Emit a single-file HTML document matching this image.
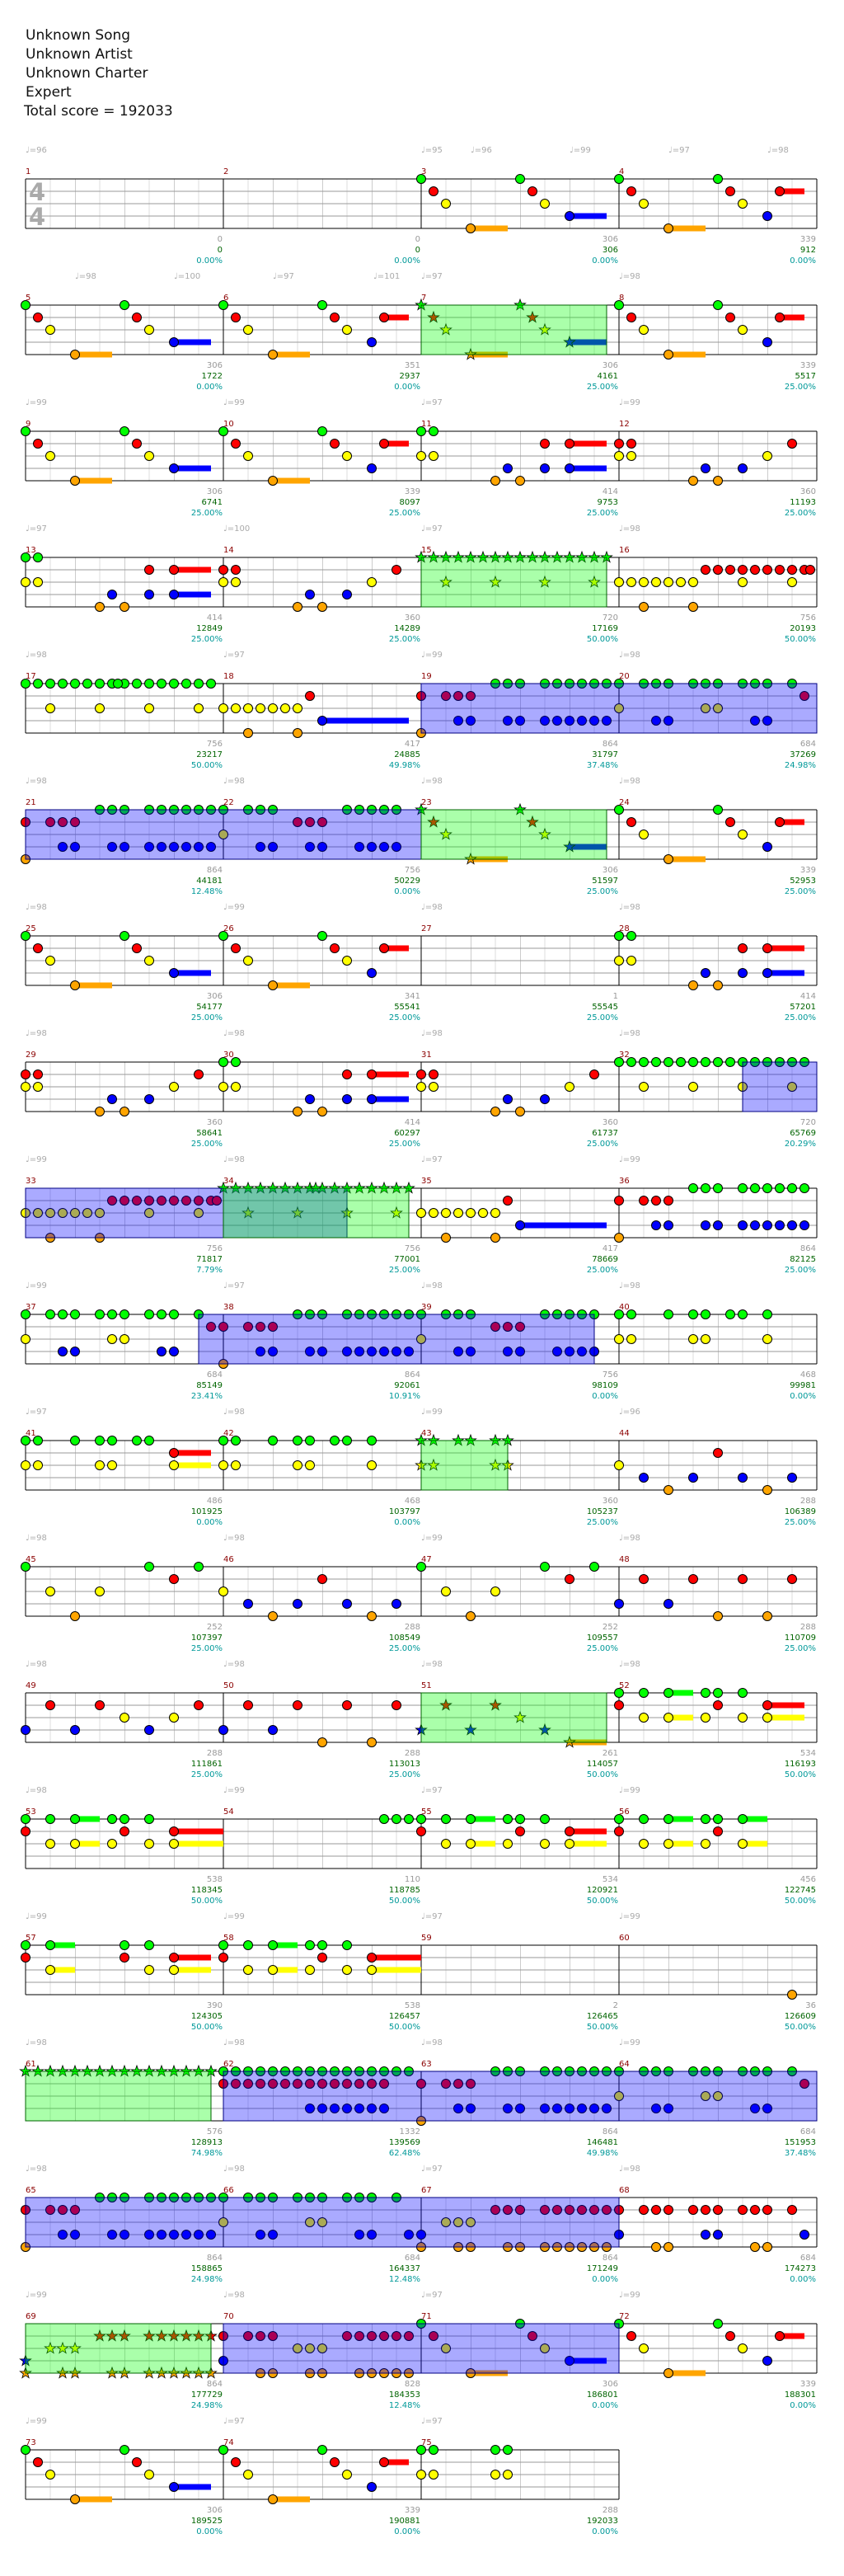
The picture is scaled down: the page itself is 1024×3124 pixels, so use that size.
<!DOCTYPE html>
<html><head><meta charset="utf-8"><style>
html,body{margin:0;padding:0;background:#fff}
svg{display:block}
text{font-family:"DejaVu Sans","Liberation Sans",sans-serif}
.h{font-size:17px;fill:#111}
.tp{font-size:10px;fill:#aaa}
.mn{font-size:10px;fill:#8b0000}
.n{font-size:10px;text-anchor:end}
.a{fill:#999}.b{fill:#006400}.c{fill:#009999}
.ts{font-size:29px;font-weight:bold;fill:#aaa}
</style></head><body>
<svg width="1024" height="3124" viewBox="0 0 1024 3124" xmlns="http://www.w3.org/2000/svg" xmlns:xlink="http://www.w3.org/1999/xlink">
<defs>
<pattern id="gr" width="60" height="60" patternUnits="userSpaceOnUse" x="31" y="0">
<rect width="60" height="60" fill="#fff"/>
<path d="M30 0V60" stroke="#ddd" stroke-width="1" shape-rendering="crispEdges"/>
<path d="M0 0V60" stroke="#999" stroke-width="1" shape-rendering="crispEdges"/>
<path d="M0 15H60M0 30H60M0 45H60" stroke="#999" stroke-width="1" shape-rendering="crispEdges"/>
</pattern>
<g id="staff">
<rect x="31" y="0" width="960" height="60" fill="url(#gr)"/>
<path d="M31 0V60M271 0V60M511 0V60M751 0V60M991 0V60M31 0H991M31 60H991" stroke="#000" stroke-width="1.2" fill="none" shape-rendering="crispEdges"/>
</g>
<g id="staff3">
<rect x="31" y="0" width="720" height="60" fill="url(#gr)"/>
<path d="M31 0V60M271 0V60M511 0V60M751 0V60M31 0H751M31 60H751" stroke="#000" stroke-width="1.2" fill="none" shape-rendering="crispEdges"/>
</g>
<circle id="G" cx="0" cy="0" r="5.5" fill="#00ff00" stroke="#000" stroke-width="1"/>
<circle id="R" cx="0" cy="15" r="5.5" fill="#ff0000" stroke="#000" stroke-width="1"/>
<circle id="Y" cx="0" cy="30" r="5.5" fill="#ffff00" stroke="#000" stroke-width="1"/>
<circle id="B" cx="0" cy="45" r="5.5" fill="#0000ff" stroke="#000" stroke-width="1"/>
<circle id="O" cx="0" cy="60" r="5.5" fill="#ffa500" stroke="#000" stroke-width="1"/>
<polygon id="st" points="0,-7 1.65,-2.27 6.66,-2.16 2.66,0.87 4.11,5.66 0,2.8 -4.11,5.66 -2.66,0.87 -6.66,-2.16 -1.65,-2.27" stroke="#000" stroke-width="0.8"/>
<g id="sG" fill="#00ff00"><use href="#st"/></g>
<g id="sR" fill="#ff0000" transform="translate(0,15)"><use href="#st"/></g>
<g id="sY" fill="#ffff00" transform="translate(0,30)"><use href="#st"/></g>
<g id="sB" fill="#0000ff" transform="translate(0,45)"><use href="#st"/></g>
<g id="sO" fill="#ffa500" transform="translate(0,60)"><use href="#st"/></g>

<g id="M3"><rect x="60" y="56.5" width="45" height="7" fill="#ffa500"/><rect x="180" y="41.5" width="45" height="7" fill="#0000ff"/><use href="#G"/><use href="#R" x="15"/><use href="#Y" x="30"/><use href="#O" x="60"/><use href="#G" x="120"/><use href="#R" x="135"/><use href="#Y" x="150"/><use href="#B" x="180"/></g>
<g id="M4"><rect x="60" y="56.5" width="45" height="7" fill="#ffa500"/><rect x="195" y="11.5" width="30" height="7" fill="#ff0000"/><use href="#G"/><use href="#R" x="15"/><use href="#Y" x="30"/><use href="#O" x="60"/><use href="#G" x="120"/><use href="#R" x="135"/><use href="#Y" x="150"/><use href="#B" x="180"/><use href="#R" x="195"/></g>
<g id="M7"><rect x="60" y="56.5" width="45" height="7" fill="#ffa500"/><rect x="180" y="41.5" width="45" height="7" fill="#0000ff"/><use href="#sG"/><use href="#sR" x="15"/><use href="#sY" x="30"/><use href="#sO" x="60"/><use href="#sG" x="120"/><use href="#sR" x="135"/><use href="#sY" x="150"/><use href="#sB" x="180"/></g>
<g id="M11"><rect x="180" y="41.5" width="45" height="7" fill="#0000ff"/><rect x="180" y="11.5" width="45" height="7" fill="#ff0000"/><use href="#G"/><use href="#G" x="15"/><use href="#Y"/><use href="#Y" x="15"/><use href="#O" x="90"/><use href="#O" x="120"/><use href="#B" x="105"/><use href="#B" x="150"/><use href="#B" x="180"/><use href="#R" x="150"/><use href="#R" x="180"/></g>
<g id="M12"><use href="#R"/><use href="#R" x="15"/><use href="#Y"/><use href="#Y" x="15"/><use href="#O" x="90"/><use href="#O" x="120"/><use href="#B" x="105"/><use href="#B" x="150"/><use href="#Y" x="180"/><use href="#R" x="210"/></g>
<g id="M19"><use href="#R"/><use href="#R" x="30"/><use href="#R" x="45"/><use href="#R" x="60"/><use href="#O"/><use href="#G" x="90"/><use href="#G" x="105"/><use href="#G" x="120"/><use href="#G" x="150"/><use href="#G" x="165"/><use href="#G" x="180"/><use href="#G" x="195"/><use href="#G" x="210"/><use href="#G" x="225"/><use href="#B" x="45"/><use href="#B" x="60"/><use href="#B" x="105"/><use href="#B" x="120"/><use href="#B" x="150"/><use href="#B" x="165"/><use href="#B" x="180"/><use href="#B" x="195"/><use href="#B" x="210"/><use href="#B" x="225"/></g>
<g id="M20"><use href="#G"/><use href="#G" x="30"/><use href="#G" x="45"/><use href="#G" x="60"/><use href="#G" x="90"/><use href="#G" x="105"/><use href="#G" x="120"/><use href="#G" x="150"/><use href="#G" x="165"/><use href="#G" x="180"/><use href="#G" x="210"/><use href="#Y"/><use href="#Y" x="105"/><use href="#Y" x="120"/><use href="#B" x="45"/><use href="#B" x="60"/><use href="#B" x="165"/><use href="#B" x="180"/><use href="#R" x="225"/></g>
<g id="M22"><use href="#G"/><use href="#G" x="30"/><use href="#G" x="45"/><use href="#G" x="60"/><use href="#G" x="150"/><use href="#G" x="165"/><use href="#G" x="180"/><use href="#G" x="195"/><use href="#G" x="210"/><use href="#Y"/><use href="#R" x="90"/><use href="#R" x="105"/><use href="#R" x="120"/><use href="#B" x="45"/><use href="#B" x="60"/><use href="#B" x="105"/><use href="#B" x="120"/><use href="#B" x="165"/><use href="#B" x="180"/><use href="#B" x="195"/><use href="#B" x="210"/></g>
<g id="M52"><rect x="60" y="-3.5" width="30" height="7" fill="#00ff00"/><rect x="60" y="26.5" width="30" height="7" fill="#ffff00"/><rect x="180" y="11.5" width="45" height="7" fill="#ff0000"/><rect x="180" y="26.5" width="45" height="7" fill="#ffff00"/><use href="#G"/><use href="#G" x="30"/><use href="#G" x="60"/><use href="#G" x="105"/><use href="#G" x="120"/><use href="#G" x="150"/><use href="#R"/><use href="#R" x="120"/><use href="#R" x="180"/><use href="#Y" x="30"/><use href="#Y" x="60"/><use href="#Y" x="105"/><use href="#Y" x="150"/><use href="#Y" x="180"/></g>
<g id="M53"><rect x="60" y="-3.5" width="30" height="7" fill="#00ff00"/><rect x="60" y="26.5" width="30" height="7" fill="#ffff00"/><rect x="180" y="11.5" width="60" height="7" fill="#ff0000"/><rect x="180" y="26.5" width="60" height="7" fill="#ffff00"/><use href="#G"/><use href="#G" x="30"/><use href="#G" x="60"/><use href="#G" x="105"/><use href="#G" x="120"/><use href="#G" x="150"/><use href="#R"/><use href="#R" x="120"/><use href="#R" x="180"/><use href="#Y" x="30"/><use href="#Y" x="60"/><use href="#Y" x="105"/><use href="#Y" x="150"/><use href="#Y" x="180"/></g>
<g id="Gall"><use href="#G"/><use href="#G" x="15"/><use href="#G" x="30"/><use href="#G" x="45"/><use href="#G" x="60"/><use href="#G" x="75"/><use href="#G" x="90"/><use href="#G" x="105"/><use href="#G" x="120"/><use href="#G" x="135"/><use href="#G" x="150"/><use href="#G" x="165"/><use href="#G" x="180"/><use href="#G" x="195"/><use href="#G" x="210"/><use href="#G" x="225"/></g>
<g id="sGall"><use href="#sG"/><use href="#sG" x="15"/><use href="#sG" x="30"/><use href="#sG" x="45"/><use href="#sG" x="60"/><use href="#sG" x="75"/><use href="#sG" x="90"/><use href="#sG" x="105"/><use href="#sG" x="120"/><use href="#sG" x="135"/><use href="#sG" x="150"/><use href="#sG" x="165"/><use href="#sG" x="180"/><use href="#sG" x="195"/><use href="#sG" x="210"/><use href="#sG" x="225"/></g>
<g id="Yrun"><use href="#Y"/><use href="#Y" x="15"/><use href="#Y" x="30"/><use href="#Y" x="45"/><use href="#Y" x="60"/><use href="#Y" x="75"/><use href="#Y" x="90"/></g>
</defs>

<!-- header -->
<text class="h" x="31" y="48">Unknown Song</text>
<text class="h" x="31" y="71">Unknown Artist</text>
<text class="h" x="31" y="94">Unknown Charter</text>
<text class="h" x="31" y="117">Expert</text>
<text class="h" x="29" y="140">Total score = 192033</text>

<!-- ROW 0 -->
<g transform="translate(0,217)">
<use href="#staff"/>
<text class="ts" x="35" y="26">4</text><text class="ts" x="35" y="56">4</text>
<use href="#M3" x="511"/><use href="#M4" x="751"/>
<text class="tp" x="31" y="-32">♩=96</text><text class="tp" x="511" y="-32">♩=95</text><text class="tp" x="571" y="-32">♩=96</text><text class="tp" x="691" y="-32">♩=99</text><text class="tp" x="811" y="-32">♩=97</text><text class="tp" x="931" y="-32">♩=98</text>
<text class="mn" x="31" y="-6">1</text><text class="mn" x="271" y="-6">2</text><text class="mn" x="511" y="-6">3</text><text class="mn" x="751" y="-6">4</text>
<text class="n a" x="270" y="76">0</text><text class="n b" x="270" y="89">0</text><text class="n c" x="270" y="102">0.00%</text>
<text class="n a" x="510" y="76">0</text><text class="n b" x="510" y="89">0</text><text class="n c" x="510" y="102">0.00%</text>
<text class="n a" x="750" y="76">306</text><text class="n b" x="750" y="89">306</text><text class="n c" x="750" y="102">0.00%</text>
<text class="n a" x="990" y="76">339</text><text class="n b" x="990" y="89">912</text><text class="n c" x="990" y="102">0.00%</text>
</g>

<!-- ROW 1 -->
<g transform="translate(0,370)">
<use href="#staff"/>
<use href="#M3" x="31"/><use href="#M4" x="271"/><use href="#M7" x="511"/><use href="#M4" x="751"/>
<rect x="511" y="0" width="225" height="60" fill="rgba(0,255,0,0.333)" stroke="#006400" stroke-width="1"/>
<text class="tp" x="91" y="-32">♩=98</text><text class="tp" x="211" y="-32">♩=100</text><text class="tp" x="331" y="-32">♩=97</text><text class="tp" x="453" y="-32">♩=101</text><text class="tp" x="511" y="-32">♩=97</text><text class="tp" x="751" y="-32">♩=98</text>
<text class="mn" x="31" y="-6">5</text><text class="mn" x="271" y="-6">6</text><text class="mn" x="511" y="-6">7</text><text class="mn" x="751" y="-6">8</text>
<text class="n a" x="270" y="76">306</text><text class="n b" x="270" y="89">1722</text><text class="n c" x="270" y="102">0.00%</text>
<text class="n a" x="510" y="76">351</text><text class="n b" x="510" y="89">2937</text><text class="n c" x="510" y="102">0.00%</text>
<text class="n a" x="750" y="76">306</text><text class="n b" x="750" y="89">4161</text><text class="n c" x="750" y="102">25.00%</text>
<text class="n a" x="990" y="76">339</text><text class="n b" x="990" y="89">5517</text><text class="n c" x="990" y="102">25.00%</text>
</g>

<!-- ROW 2 -->
<g transform="translate(0,523)">
<use href="#staff"/>
<use href="#M3" x="31"/><use href="#M4" x="271"/><use href="#M11" x="511"/><use href="#M12" x="751"/>
<text class="tp" x="31" y="-32">♩=99</text><text class="tp" x="271" y="-32">♩=99</text><text class="tp" x="511" y="-32">♩=97</text><text class="tp" x="751" y="-32">♩=99</text>
<text class="mn" x="31" y="-6">9</text><text class="mn" x="271" y="-6">10</text><text class="mn" x="511" y="-6">11</text><text class="mn" x="751" y="-6">12</text>
<text class="n a" x="270" y="76">306</text><text class="n b" x="270" y="89">6741</text><text class="n c" x="270" y="102">25.00%</text>
<text class="n a" x="510" y="76">339</text><text class="n b" x="510" y="89">8097</text><text class="n c" x="510" y="102">25.00%</text>
<text class="n a" x="750" y="76">414</text><text class="n b" x="750" y="89">9753</text><text class="n c" x="750" y="102">25.00%</text>
<text class="n a" x="990" y="76">360</text><text class="n b" x="990" y="89">11193</text><text class="n c" x="990" y="102">25.00%</text>
</g>

<!-- ROW 3 -->
<g transform="translate(0,676)">
<use href="#staff"/>
<use href="#M11" x="31"/><use href="#M12" x="271"/>
<g transform="translate(511,0)"><use href="#sGall"/><use href="#sY" x="30"/><use href="#sY" x="90"/><use href="#sY" x="150"/><use href="#sY" x="210"/></g>
<g transform="translate(751,0)"><use href="#Yrun"/><use href="#R" x="105"/><use href="#R" x="120"/><use href="#R" x="135"/><use href="#R" x="150"/><use href="#R" x="165"/><use href="#R" x="180"/><use href="#R" x="195"/><use href="#R" x="210"/><use href="#R" x="225"/><use href="#R" x="232"/><use href="#Y" x="150"/><use href="#Y" x="210"/><use href="#O" x="30"/><use href="#O" x="90"/></g>
<rect x="511" y="0" width="225" height="60" fill="rgba(0,255,0,0.333)" stroke="#006400" stroke-width="1"/>
<text class="tp" x="31" y="-32">♩=97</text><text class="tp" x="271" y="-32">♩=100</text><text class="tp" x="511" y="-32">♩=97</text><text class="tp" x="751" y="-32">♩=98</text>
<text class="mn" x="31" y="-6">13</text><text class="mn" x="271" y="-6">14</text><text class="mn" x="511" y="-6">15</text><text class="mn" x="751" y="-6">16</text>
<text class="n a" x="270" y="76">414</text><text class="n b" x="270" y="89">12849</text><text class="n c" x="270" y="102">25.00%</text>
<text class="n a" x="510" y="76">360</text><text class="n b" x="510" y="89">14289</text><text class="n c" x="510" y="102">25.00%</text>
<text class="n a" x="750" y="76">720</text><text class="n b" x="750" y="89">17169</text><text class="n c" x="750" y="102">50.00%</text>
<text class="n a" x="990" y="76">756</text><text class="n b" x="990" y="89">20193</text><text class="n c" x="990" y="102">50.00%</text>
</g>

<!-- ROW 4 -->
<g transform="translate(0,829)">
<use href="#staff"/>
<g transform="translate(31,0)"><use href="#Gall"/><use href="#G" x="112"/><use href="#Y" x="30"/><use href="#Y" x="90"/><use href="#Y" x="150"/><use href="#Y" x="210"/></g>
<g transform="translate(271,0)"><rect x="120" y="41.5" width="105" height="7" fill="#0000ff"/><use href="#Yrun"/><use href="#R" x="105"/><use href="#O" x="30"/><use href="#O" x="90"/><use href="#B" x="120"/></g>
<use href="#M19" x="511"/><use href="#M20" x="751"/>
<rect x="511" y="0" width="480" height="60" fill="rgba(0,0,255,0.333)" stroke="#000080" stroke-width="1"/>
<text class="tp" x="31" y="-32">♩=98</text><text class="tp" x="271" y="-32">♩=97</text><text class="tp" x="511" y="-32">♩=99</text><text class="tp" x="751" y="-32">♩=98</text>
<text class="mn" x="31" y="-6">17</text><text class="mn" x="271" y="-6">18</text><text class="mn" x="511" y="-6">19</text><text class="mn" x="751" y="-6">20</text>
<text class="n a" x="270" y="76">756</text><text class="n b" x="270" y="89">23217</text><text class="n c" x="270" y="102">50.00%</text>
<text class="n a" x="510" y="76">417</text><text class="n b" x="510" y="89">24885</text><text class="n c" x="510" y="102">49.98%</text>
<text class="n a" x="750" y="76">864</text><text class="n b" x="750" y="89">31797</text><text class="n c" x="750" y="102">37.48%</text>
<text class="n a" x="990" y="76">684</text><text class="n b" x="990" y="89">37269</text><text class="n c" x="990" y="102">24.98%</text>
</g>

<!-- ROW 5 -->
<g transform="translate(0,982)">
<use href="#staff"/>
<use href="#M19" x="31"/><use href="#M22" x="271"/><use href="#M7" x="511"/><use href="#M4" x="751"/>
<rect x="31" y="0" width="480" height="60" fill="rgba(0,0,255,0.333)" stroke="#000080" stroke-width="1"/>
<rect x="511" y="0" width="225" height="60" fill="rgba(0,255,0,0.333)" stroke="#006400" stroke-width="1"/>
<text class="tp" x="31" y="-32">♩=98</text><text class="tp" x="271" y="-32">♩=98</text><text class="tp" x="511" y="-32">♩=98</text><text class="tp" x="751" y="-32">♩=98</text>
<text class="mn" x="31" y="-6">21</text><text class="mn" x="271" y="-6">22</text><text class="mn" x="511" y="-6">23</text><text class="mn" x="751" y="-6">24</text>
<text class="n a" x="270" y="76">864</text><text class="n b" x="270" y="89">44181</text><text class="n c" x="270" y="102">12.48%</text>
<text class="n a" x="510" y="76">756</text><text class="n b" x="510" y="89">50229</text><text class="n c" x="510" y="102">0.00%</text>
<text class="n a" x="750" y="76">306</text><text class="n b" x="750" y="89">51597</text><text class="n c" x="750" y="102">25.00%</text>
<text class="n a" x="990" y="76">339</text><text class="n b" x="990" y="89">52953</text><text class="n c" x="990" y="102">25.00%</text>
</g>

<!-- ROW 6 -->
<g transform="translate(0,1135)">
<use href="#staff"/>
<use href="#M3" x="31"/><use href="#M4" x="271"/><use href="#M11" x="751"/>
<text class="tp" x="31" y="-32">♩=98</text><text class="tp" x="271" y="-32">♩=99</text><text class="tp" x="511" y="-32">♩=98</text><text class="tp" x="751" y="-32">♩=98</text>
<text class="mn" x="31" y="-6">25</text><text class="mn" x="271" y="-6">26</text><text class="mn" x="511" y="-6">27</text><text class="mn" x="751" y="-6">28</text>
<text class="n a" x="270" y="76">306</text><text class="n b" x="270" y="89">54177</text><text class="n c" x="270" y="102">25.00%</text>
<text class="n a" x="510" y="76">341</text><text class="n b" x="510" y="89">55541</text><text class="n c" x="510" y="102">25.00%</text>
<text class="n a" x="750" y="76">1</text><text class="n b" x="750" y="89">55545</text><text class="n c" x="750" y="102">25.00%</text>
<text class="n a" x="990" y="76">414</text><text class="n b" x="990" y="89">57201</text><text class="n c" x="990" y="102">25.00%</text>
</g>

<!-- ROW 7 -->
<g transform="translate(0,1288)">
<use href="#staff"/>
<use href="#M12" x="31"/><use href="#M11" x="271"/><use href="#M12" x="511"/>
<g transform="translate(751,0)"><use href="#Gall"/><use href="#Y" x="30"/><use href="#Y" x="90"/><use href="#Y" x="150"/><use href="#Y" x="210"/></g>
<rect x="901" y="0" width="90" height="60" fill="rgba(0,0,255,0.333)" stroke="#000080" stroke-width="1"/>
<text class="tp" x="31" y="-32">♩=98</text><text class="tp" x="271" y="-32">♩=98</text><text class="tp" x="511" y="-32">♩=98</text><text class="tp" x="751" y="-32">♩=98</text>
<text class="mn" x="31" y="-6">29</text><text class="mn" x="271" y="-6">30</text><text class="mn" x="511" y="-6">31</text><text class="mn" x="751" y="-6">32</text>
<text class="n a" x="270" y="76">360</text><text class="n b" x="270" y="89">58641</text><text class="n c" x="270" y="102">25.00%</text>
<text class="n a" x="510" y="76">414</text><text class="n b" x="510" y="89">60297</text><text class="n c" x="510" y="102">25.00%</text>
<text class="n a" x="750" y="76">360</text><text class="n b" x="750" y="89">61737</text><text class="n c" x="750" y="102">25.00%</text>
<text class="n a" x="990" y="76">720</text><text class="n b" x="990" y="89">65769</text><text class="n c" x="990" y="102">20.29%</text>
</g>

<!-- ROW 8 -->
<g transform="translate(0,1441)">
<use href="#staff"/>
<g transform="translate(31,0)"><use href="#Yrun"/><use href="#Y" x="150"/><use href="#Y" x="210"/><use href="#O" x="30"/><use href="#O" x="90"/><use href="#R" x="105"/><use href="#R" x="120"/><use href="#R" x="135"/><use href="#R" x="150"/><use href="#R" x="165"/><use href="#R" x="180"/><use href="#R" x="195"/><use href="#R" x="210"/><use href="#R" x="225"/><use href="#R" x="232"/></g>
<g transform="translate(271,0)"><use href="#sGall"/><use href="#sG" x="112"/><use href="#sY" x="30"/><use href="#sY" x="90"/><use href="#sY" x="150"/><use href="#sY" x="210"/></g>
<g transform="translate(511,0)"><rect x="120" y="41.5" width="105" height="7" fill="#0000ff"/><use href="#Yrun"/><use href="#R" x="105"/><use href="#O" x="30"/><use href="#O" x="90"/><use href="#B" x="120"/></g>
<use href="#M19" x="751"/>
<rect x="31" y="0" width="390" height="60" fill="rgba(0,0,255,0.333)" stroke="#000080" stroke-width="1"/>
<rect x="271" y="0" width="225" height="60" fill="rgba(0,255,0,0.333)" stroke="#006400" stroke-width="1"/>
<text class="tp" x="31" y="-32">♩=99</text><text class="tp" x="271" y="-32">♩=98</text><text class="tp" x="511" y="-32">♩=97</text><text class="tp" x="751" y="-32">♩=99</text>
<text class="mn" x="31" y="-6">33</text><text class="mn" x="271" y="-6">34</text><text class="mn" x="511" y="-6">35</text><text class="mn" x="751" y="-6">36</text>
<text class="n a" x="270" y="76">756</text><text class="n b" x="270" y="89">71817</text><text class="n c" x="270" y="102">7.79%</text>
<text class="n a" x="510" y="76">756</text><text class="n b" x="510" y="89">77001</text><text class="n c" x="510" y="102">25.00%</text>
<text class="n a" x="750" y="76">417</text><text class="n b" x="750" y="89">78669</text><text class="n c" x="750" y="102">25.00%</text>
<text class="n a" x="990" y="76">864</text><text class="n b" x="990" y="89">82125</text><text class="n c" x="990" y="102">25.00%</text>
</g>

<!-- ROW 9 -->
<g transform="translate(0,1594)">
<use href="#staff"/>
<use href="#M20" x="31"/><use href="#M19" x="271"/><use href="#M22" x="511"/>
<g transform="translate(751,0)"><use href="#G"/><use href="#G" x="15"/><use href="#G" x="60"/><use href="#G" x="90"/><use href="#G" x="105"/><use href="#G" x="135"/><use href="#G" x="150"/><use href="#G" x="180"/><use href="#Y"/><use href="#Y" x="15"/><use href="#Y" x="90"/><use href="#Y" x="105"/><use href="#Y" x="180"/></g>
<rect x="241" y="0" width="480" height="60" fill="rgba(0,0,255,0.333)" stroke="#000080" stroke-width="1"/>
<text class="tp" x="31" y="-32">♩=99</text><text class="tp" x="271" y="-32">♩=97</text><text class="tp" x="511" y="-32">♩=98</text><text class="tp" x="751" y="-32">♩=98</text>
<text class="mn" x="31" y="-6">37</text><text class="mn" x="271" y="-6">38</text><text class="mn" x="511" y="-6">39</text><text class="mn" x="751" y="-6">40</text>
<text class="n a" x="270" y="76">684</text><text class="n b" x="270" y="89">85149</text><text class="n c" x="270" y="102">23.41%</text>
<text class="n a" x="510" y="76">864</text><text class="n b" x="510" y="89">92061</text><text class="n c" x="510" y="102">10.91%</text>
<text class="n a" x="750" y="76">756</text><text class="n b" x="750" y="89">98109</text><text class="n c" x="750" y="102">0.00%</text>
<text class="n a" x="990" y="76">468</text><text class="n b" x="990" y="89">99981</text><text class="n c" x="990" y="102">0.00%</text>
</g>

<!-- ROW 10 -->
<g transform="translate(0,1747)">
<use href="#staff"/>
<g transform="translate(31,0)"><rect x="180" y="11.5" width="45" height="7" fill="#ff0000"/><rect x="180" y="26.5" width="45" height="7" fill="#ffff00"/><use href="#G"/><use href="#G" x="15"/><use href="#G" x="60"/><use href="#G" x="90"/><use href="#G" x="105"/><use href="#G" x="135"/><use href="#G" x="150"/><use href="#Y"/><use href="#Y" x="15"/><use href="#Y" x="90"/><use href="#Y" x="105"/><use href="#R" x="180"/><use href="#Y" x="180"/></g>
<g transform="translate(271,0)"><use href="#G"/><use href="#G" x="15"/><use href="#G" x="60"/><use href="#G" x="90"/><use href="#G" x="105"/><use href="#G" x="135"/><use href="#G" x="150"/><use href="#G" x="180"/><use href="#Y"/><use href="#Y" x="15"/><use href="#Y" x="90"/><use href="#Y" x="105"/><use href="#Y" x="180"/></g>
<g transform="translate(511,0)"><use href="#sG"/><use href="#sG" x="15"/><use href="#sG" x="45"/><use href="#sG" x="60"/><use href="#sG" x="90"/><use href="#sG" x="105"/><use href="#sY"/><use href="#sY" x="15"/><use href="#sY" x="90"/><use href="#sY" x="105"/></g>
<g transform="translate(751,0)"><use href="#Y"/><use href="#B" x="30"/><use href="#B" x="90"/><use href="#B" x="150"/><use href="#B" x="210"/><use href="#O" x="60"/><use href="#O" x="180"/><use href="#R" x="120"/></g>
<rect x="511" y="0" width="105" height="60" fill="rgba(0,255,0,0.333)" stroke="#006400" stroke-width="1"/>
<text class="tp" x="31" y="-32">♩=97</text><text class="tp" x="271" y="-32">♩=98</text><text class="tp" x="511" y="-32">♩=99</text><text class="tp" x="751" y="-32">♩=96</text>
<text class="mn" x="31" y="-6">41</text><text class="mn" x="271" y="-6">42</text><text class="mn" x="511" y="-6">43</text><text class="mn" x="751" y="-6">44</text>
<text class="n a" x="270" y="76">486</text><text class="n b" x="270" y="89">101925</text><text class="n c" x="270" y="102">0.00%</text>
<text class="n a" x="510" y="76">468</text><text class="n b" x="510" y="89">103797</text><text class="n c" x="510" y="102">0.00%</text>
<text class="n a" x="750" y="76">360</text><text class="n b" x="750" y="89">105237</text><text class="n c" x="750" y="102">25.00%</text>
<text class="n a" x="990" y="76">288</text><text class="n b" x="990" y="89">106389</text><text class="n c" x="990" y="102">25.00%</text>
</g>

<!-- ROW 11 -->
<g transform="translate(0,1900)">
<use href="#staff"/>
<g transform="translate(31,0)"><use href="#G"/><use href="#G" x="150"/><use href="#G" x="210"/><use href="#Y" x="30"/><use href="#Y" x="90"/><use href="#O" x="60"/><use href="#R" x="180"/></g>
<g transform="translate(271,0)"><use href="#Y"/><use href="#B" x="30"/><use href="#B" x="90"/><use href="#B" x="150"/><use href="#B" x="210"/><use href="#O" x="60"/><use href="#O" x="180"/><use href="#R" x="120"/></g>
<g transform="translate(511,0)"><use href="#G"/><use href="#G" x="150"/><use href="#G" x="210"/><use href="#Y" x="30"/><use href="#Y" x="90"/><use href="#O" x="60"/><use href="#R" x="180"/></g>
<g transform="translate(751,0)"><use href="#B"/><use href="#B" x="60"/><use href="#R" x="30"/><use href="#R" x="90"/><use href="#R" x="150"/><use href="#R" x="210"/><use href="#O" x="120"/><use href="#O" x="180"/></g>
<text class="tp" x="31" y="-32">♩=98</text><text class="tp" x="271" y="-32">♩=98</text><text class="tp" x="511" y="-32">♩=99</text><text class="tp" x="751" y="-32">♩=98</text>
<text class="mn" x="31" y="-6">45</text><text class="mn" x="271" y="-6">46</text><text class="mn" x="511" y="-6">47</text><text class="mn" x="751" y="-6">48</text>
<text class="n a" x="270" y="76">252</text><text class="n b" x="270" y="89">107397</text><text class="n c" x="270" y="102">25.00%</text>
<text class="n a" x="510" y="76">288</text><text class="n b" x="510" y="89">108549</text><text class="n c" x="510" y="102">25.00%</text>
<text class="n a" x="750" y="76">252</text><text class="n b" x="750" y="89">109557</text><text class="n c" x="750" y="102">25.00%</text>
<text class="n a" x="990" y="76">288</text><text class="n b" x="990" y="89">110709</text><text class="n c" x="990" y="102">25.00%</text>
</g>

<!-- ROW 12 -->
<g transform="translate(0,2053)">
<use href="#staff"/>
<g transform="translate(31,0)"><use href="#B"/><use href="#B" x="60"/><use href="#B" x="150"/><use href="#R" x="30"/><use href="#R" x="90"/><use href="#R" x="210"/><use href="#Y" x="120"/><use href="#Y" x="180"/></g>
<g transform="translate(271,0)"><use href="#B"/><use href="#B" x="60"/><use href="#R" x="30"/><use href="#R" x="90"/><use href="#R" x="150"/><use href="#R" x="210"/><use href="#O" x="120"/><use href="#O" x="180"/></g>
<g transform="translate(511,0)"><rect x="180" y="56.5" width="45" height="7" fill="#ffa500"/><use href="#sR" x="30"/><use href="#sR" x="90"/><use href="#sY" x="120"/><use href="#sB"/><use href="#sB" x="60"/><use href="#sB" x="150"/><use href="#sO" x="180"/></g>
<use href="#M52" x="751"/>
<rect x="511" y="0" width="225" height="60" fill="rgba(0,255,0,0.333)" stroke="#006400" stroke-width="1"/>
<text class="tp" x="31" y="-32">♩=98</text><text class="tp" x="271" y="-32">♩=98</text><text class="tp" x="511" y="-32">♩=98</text><text class="tp" x="751" y="-32">♩=98</text>
<text class="mn" x="31" y="-6">49</text><text class="mn" x="271" y="-6">50</text><text class="mn" x="511" y="-6">51</text><text class="mn" x="751" y="-6">52</text>
<text class="n a" x="270" y="76">288</text><text class="n b" x="270" y="89">111861</text><text class="n c" x="270" y="102">25.00%</text>
<text class="n a" x="510" y="76">288</text><text class="n b" x="510" y="89">113013</text><text class="n c" x="510" y="102">25.00%</text>
<text class="n a" x="750" y="76">261</text><text class="n b" x="750" y="89">114057</text><text class="n c" x="750" y="102">50.00%</text>
<text class="n a" x="990" y="76">534</text><text class="n b" x="990" y="89">116193</text><text class="n c" x="990" y="102">50.00%</text>
</g>

<!-- ROW 13 -->
<g transform="translate(0,2206)">
<use href="#staff"/>
<use href="#M53" x="31"/>
<g transform="translate(271,0)"><use href="#G" x="195"/><use href="#G" x="210"/><use href="#G" x="225"/></g>
<use href="#M52" x="511"/>
<g transform="translate(751,0)"><rect x="60" y="-3.5" width="30" height="7" fill="#00ff00"/><rect x="150" y="-3.5" width="30" height="7" fill="#00ff00"/><rect x="60" y="26.5" width="30" height="7" fill="#ffff00"/><rect x="150" y="26.5" width="30" height="7" fill="#ffff00"/><use href="#G"/><use href="#G" x="30"/><use href="#G" x="60"/><use href="#G" x="105"/><use href="#G" x="120"/><use href="#G" x="150"/><use href="#R"/><use href="#R" x="120"/><use href="#Y" x="30"/><use href="#Y" x="60"/><use href="#Y" x="105"/><use href="#Y" x="150"/></g>
<text class="tp" x="31" y="-32">♩=98</text><text class="tp" x="271" y="-32">♩=99</text><text class="tp" x="511" y="-32">♩=97</text><text class="tp" x="751" y="-32">♩=99</text>
<text class="mn" x="31" y="-6">53</text><text class="mn" x="271" y="-6">54</text><text class="mn" x="511" y="-6">55</text><text class="mn" x="751" y="-6">56</text>
<text class="n a" x="270" y="76">538</text><text class="n b" x="270" y="89">118345</text><text class="n c" x="270" y="102">50.00%</text>
<text class="n a" x="510" y="76">110</text><text class="n b" x="510" y="89">118785</text><text class="n c" x="510" y="102">50.00%</text>
<text class="n a" x="750" y="76">534</text><text class="n b" x="750" y="89">120921</text><text class="n c" x="750" y="102">50.00%</text>
<text class="n a" x="990" y="76">456</text><text class="n b" x="990" y="89">122745</text><text class="n c" x="990" y="102">50.00%</text>
</g>

<!-- ROW 14 -->
<g transform="translate(0,2359)">
<use href="#staff"/>
<g transform="translate(31,0)"><rect x="30" y="-3.5" width="30" height="7" fill="#00ff00"/><rect x="30" y="26.5" width="30" height="7" fill="#ffff00"/><rect x="180" y="11.5" width="45" height="7" fill="#ff0000"/><rect x="180" y="26.5" width="45" height="7" fill="#ffff00"/><use href="#G"/><use href="#G" x="30"/><use href="#G" x="120"/><use href="#G" x="150"/><use href="#R"/><use href="#R" x="120"/><use href="#R" x="180"/><use href="#Y" x="30"/><use href="#Y" x="150"/><use href="#Y" x="180"/></g>
<use href="#M53" x="271"/>
<use href="#O" x="961"/>
<text class="tp" x="31" y="-32">♩=99</text><text class="tp" x="271" y="-32">♩=99</text><text class="tp" x="511" y="-32">♩=97</text><text class="tp" x="751" y="-32">♩=99</text>
<text class="mn" x="31" y="-6">57</text><text class="mn" x="271" y="-6">58</text><text class="mn" x="511" y="-6">59</text><text class="mn" x="751" y="-6">60</text>
<text class="n a" x="270" y="76">390</text><text class="n b" x="270" y="89">124305</text><text class="n c" x="270" y="102">50.00%</text>
<text class="n a" x="510" y="76">538</text><text class="n b" x="510" y="89">126457</text><text class="n c" x="510" y="102">50.00%</text>
<text class="n a" x="750" y="76">2</text><text class="n b" x="750" y="89">126465</text><text class="n c" x="750" y="102">50.00%</text>
<text class="n a" x="990" y="76">36</text><text class="n b" x="990" y="89">126609</text><text class="n c" x="990" y="102">50.00%</text>
</g>

<!-- ROW 15 -->
<g transform="translate(0,2512)">
<use href="#staff"/>
<use href="#sGall" x="31"/>
<g transform="translate(271,0)"><use href="#Gall"/><use href="#R"/><use href="#R" x="15"/><use href="#R" x="30"/><use href="#R" x="45"/><use href="#R" x="60"/><use href="#R" x="75"/><use href="#R" x="90"/><use href="#R" x="105"/><use href="#R" x="120"/><use href="#R" x="135"/><use href="#R" x="150"/><use href="#R" x="165"/><use href="#R" x="180"/><use href="#R" x="195"/><use href="#B" x="105"/><use href="#B" x="120"/><use href="#B" x="135"/><use href="#B" x="150"/><use href="#B" x="165"/><use href="#B" x="180"/><use href="#B" x="195"/></g>
<use href="#M19" x="511"/><use href="#M20" x="751"/>
<rect x="31" y="0" width="225" height="60" fill="rgba(0,255,0,0.333)" stroke="#006400" stroke-width="1"/>
<rect x="271" y="0" width="720" height="60" fill="rgba(0,0,255,0.333)" stroke="#000080" stroke-width="1"/>
<text class="tp" x="31" y="-32">♩=98</text><text class="tp" x="271" y="-32">♩=98</text><text class="tp" x="511" y="-32">♩=98</text><text class="tp" x="751" y="-32">♩=99</text>
<text class="mn" x="31" y="-6">61</text><text class="mn" x="271" y="-6">62</text><text class="mn" x="511" y="-6">63</text><text class="mn" x="751" y="-6">64</text>
<text class="n a" x="270" y="76">576</text><text class="n b" x="270" y="89">128913</text><text class="n c" x="270" y="102">74.98%</text>
<text class="n a" x="510" y="76">1332</text><text class="n b" x="510" y="89">139569</text><text class="n c" x="510" y="102">62.48%</text>
<text class="n a" x="750" y="76">864</text><text class="n b" x="750" y="89">146481</text><text class="n c" x="750" y="102">49.98%</text>
<text class="n a" x="990" y="76">684</text><text class="n b" x="990" y="89">151953</text><text class="n c" x="990" y="102">37.48%</text>
</g>

<!-- ROW 16 -->
<g transform="translate(0,2665)">
<use href="#staff"/>
<use href="#M19" x="31"/>
<g transform="translate(271,0)"><use href="#G"/><use href="#G" x="30"/><use href="#G" x="45"/><use href="#G" x="60"/><use href="#G" x="90"/><use href="#G" x="105"/><use href="#G" x="120"/><use href="#G" x="150"/><use href="#G" x="165"/><use href="#G" x="180"/><use href="#G" x="210"/><use href="#Y"/><use href="#Y" x="105"/><use href="#Y" x="120"/><use href="#B" x="45"/><use href="#B" x="60"/><use href="#B" x="165"/><use href="#B" x="180"/><use href="#B" x="225"/></g>
<g transform="translate(511,0)"><use href="#B"/><use href="#O"/><use href="#O" x="45"/><use href="#O" x="60"/><use href="#O" x="105"/><use href="#O" x="120"/><use href="#O" x="150"/><use href="#O" x="165"/><use href="#O" x="180"/><use href="#O" x="195"/><use href="#O" x="210"/><use href="#O" x="225"/><use href="#Y" x="30"/><use href="#Y" x="45"/><use href="#Y" x="60"/><use href="#R" x="90"/><use href="#R" x="105"/><use href="#R" x="120"/><use href="#R" x="150"/><use href="#R" x="165"/><use href="#R" x="180"/><use href="#R" x="195"/><use href="#R" x="210"/><use href="#R" x="225"/></g>
<g transform="translate(751,0)"><use href="#R"/><use href="#R" x="30"/><use href="#R" x="45"/><use href="#R" x="60"/><use href="#R" x="90"/><use href="#R" x="105"/><use href="#R" x="120"/><use href="#R" x="150"/><use href="#R" x="165"/><use href="#R" x="180"/><use href="#R" x="210"/><use href="#B"/><use href="#B" x="105"/><use href="#B" x="120"/><use href="#B" x="225"/><use href="#O" x="45"/><use href="#O" x="60"/><use href="#O" x="165"/><use href="#O" x="180"/></g>
<rect x="31" y="0" width="720" height="60" fill="rgba(0,0,255,0.333)" stroke="#000080" stroke-width="1"/>
<text class="tp" x="31" y="-32">♩=98</text><text class="tp" x="271" y="-32">♩=98</text><text class="tp" x="511" y="-32">♩=97</text><text class="tp" x="751" y="-32">♩=98</text>
<text class="mn" x="31" y="-6">65</text><text class="mn" x="271" y="-6">66</text><text class="mn" x="511" y="-6">67</text><text class="mn" x="751" y="-6">68</text>
<text class="n a" x="270" y="76">864</text><text class="n b" x="270" y="89">158865</text><text class="n c" x="270" y="102">24.98%</text>
<text class="n a" x="510" y="76">684</text><text class="n b" x="510" y="89">164337</text><text class="n c" x="510" y="102">12.48%</text>
<text class="n a" x="750" y="76">864</text><text class="n b" x="750" y="89">171249</text><text class="n c" x="750" y="102">0.00%</text>
<text class="n a" x="990" y="76">684</text><text class="n b" x="990" y="89">174273</text><text class="n c" x="990" y="102">0.00%</text>
</g>

<!-- ROW 17 -->
<g transform="translate(0,2818)">
<use href="#staff"/>
<g transform="translate(31,0)"><use href="#sB"/><use href="#sO"/><use href="#sO" x="45"/><use href="#sO" x="60"/><use href="#sO" x="105"/><use href="#sO" x="120"/><use href="#sO" x="150"/><use href="#sO" x="165"/><use href="#sO" x="180"/><use href="#sO" x="195"/><use href="#sO" x="210"/><use href="#sO" x="225"/><use href="#sY" x="30"/><use href="#sY" x="45"/><use href="#sY" x="60"/><use href="#sR" x="90"/><use href="#sR" x="105"/><use href="#sR" x="120"/><use href="#sR" x="150"/><use href="#sR" x="165"/><use href="#sR" x="180"/><use href="#sR" x="195"/><use href="#sR" x="210"/><use href="#sR" x="225"/></g>
<g transform="translate(271,0)"><use href="#R"/><use href="#R" x="30"/><use href="#R" x="45"/><use href="#R" x="60"/><use href="#R" x="150"/><use href="#R" x="165"/><use href="#R" x="180"/><use href="#R" x="195"/><use href="#R" x="210"/><use href="#R" x="225"/><use href="#B"/><use href="#Y" x="90"/><use href="#Y" x="105"/><use href="#Y" x="120"/><use href="#O" x="45"/><use href="#O" x="60"/><use href="#O" x="105"/><use href="#O" x="120"/><use href="#O" x="165"/><use href="#O" x="180"/><use href="#O" x="195"/><use href="#O" x="210"/><use href="#O" x="225"/></g>
<g transform="translate(511,0)"><rect x="60" y="56.5" width="45" height="7" fill="#ffa500"/><rect x="180" y="41.5" width="45" height="7" fill="#0000ff"/><use href="#G"/><use href="#G" x="120"/><use href="#R" x="15"/><use href="#R" x="135"/><use href="#Y" x="30"/><use href="#Y" x="150"/><use href="#O" x="60"/><use href="#B" x="180"/></g>
<use href="#M4" x="751"/>
<rect x="31" y="0" width="225" height="60" fill="rgba(0,255,0,0.333)" stroke="#006400" stroke-width="1"/>
<rect x="271" y="0" width="480" height="60" fill="rgba(0,0,255,0.333)" stroke="#000080" stroke-width="1"/>
<text class="tp" x="31" y="-32">♩=99</text><text class="tp" x="271" y="-32">♩=98</text><text class="tp" x="511" y="-32">♩=97</text><text class="tp" x="751" y="-32">♩=99</text>
<text class="mn" x="31" y="-6">69</text><text class="mn" x="271" y="-6">70</text><text class="mn" x="511" y="-6">71</text><text class="mn" x="751" y="-6">72</text>
<text class="n a" x="270" y="76">864</text><text class="n b" x="270" y="89">177729</text><text class="n c" x="270" y="102">24.98%</text>
<text class="n a" x="510" y="76">828</text><text class="n b" x="510" y="89">184353</text><text class="n c" x="510" y="102">12.48%</text>
<text class="n a" x="750" y="76">306</text><text class="n b" x="750" y="89">186801</text><text class="n c" x="750" y="102">0.00%</text>
<text class="n a" x="990" y="76">339</text><text class="n b" x="990" y="89">188301</text><text class="n c" x="990" y="102">0.00%</text>
</g>

<!-- ROW 18 -->
<g transform="translate(0,2971)">
<use href="#staff3"/>
<use href="#M3" x="31"/><use href="#M4" x="271"/>
<g transform="translate(511,0)"><use href="#G"/><use href="#G" x="15"/><use href="#G" x="90"/><use href="#G" x="105"/><use href="#Y"/><use href="#Y" x="15"/><use href="#Y" x="90"/><use href="#Y" x="105"/></g>
<text class="tp" x="31" y="-32">♩=99</text><text class="tp" x="271" y="-32">♩=97</text><text class="tp" x="511" y="-32">♩=97</text>
<text class="mn" x="31" y="-6">73</text><text class="mn" x="271" y="-6">74</text><text class="mn" x="511" y="-6">75</text>
<text class="n a" x="270" y="76">306</text><text class="n b" x="270" y="89">189525</text><text class="n c" x="270" y="102">0.00%</text>
<text class="n a" x="510" y="76">339</text><text class="n b" x="510" y="89">190881</text><text class="n c" x="510" y="102">0.00%</text>
<text class="n a" x="750" y="76">288</text><text class="n b" x="750" y="89">192033</text><text class="n c" x="750" y="102">0.00%</text>
</g>
</svg>
</body></html>
